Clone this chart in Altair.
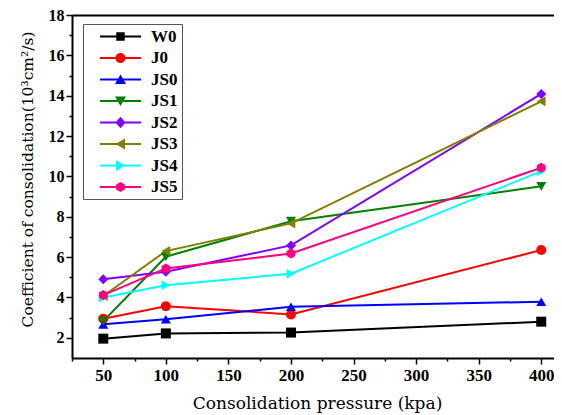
import altair as alt
import pandas as pd

pressure = [50, 100, 200, 400]
series_names = ["W0", "J0", "JS0", "JS1", "JS2", "JS3", "JS4", "JS5"]
W0 = [1.96, 2.22, 2.26, 2.80]
J0 = [2.95, 3.57, 3.16, 6.35]
JS0 = [2.67, 2.92, 3.54, 3.79]
JS1 = [2.83, 6.02, 7.78, 9.51]
JS2 = [4.90, 5.28, 6.58, 14.09]
JS3 = [4.07, 6.30, 7.67, 13.72]
JS4 = [4.00, 4.60, 5.18, 10.26]
JS5 = [4.12, 5.44, 6.18, 10.43]
values = [W0, J0, JS0, JS1, JS2, JS3, JS4, JS5]

colors = ["#000000", "#FF0000", "#0000FF", "#008000", "#8000FF", "#808000", "#00FFFF", "#FF0080"]
hexagon = "M0,-1L0.866,-0.5L0.866,0.5L0,1L-0.866,0.5L-0.866,-0.5Z"
point_shapes = ["square", "circle", "triangle-up", "triangle-down", "diamond",
                "triangle-left", "triangle-right", hexagon]

line_part = "M-4.1,-0.2H4.1V0.2H-4.1Z "
legend_markers = [
    "M-0.85,-0.85H0.85V0.85H-0.85Z",
    "M1,0A1,1 0 1,1 -1,0A1,1 0 1,1 1,0Z",
    "M0,-1L1.1,0.9L-1.1,0.9Z",
    "M0,1L-1.1,-0.9L1.1,-0.9Z",
    "M0,-1.15L1,0L0,1.15L-1,0Z",
    "M-1,0L0.9,-1.1L0.9,1.1Z",
    "M1,0L-0.9,1.1L-0.9,-1.1Z",
    hexagon,
]
legend_shapes = [line_part + m for m in legend_markers]

x_ticks = list(range(25, 401, 25))
y_ticks = list(range(2, 19))

rows = []
for name, vals in zip(series_names, values):
    for p, v in zip(pressure, vals):
        rows.append({"pressure": p, "value": v, "series": name})
df = pd.DataFrame(rows)

x_scale = alt.Scale(domain=[25, 410.2], nice=False, zero=False)
y_scale = alt.Scale(domain=[1, 18], nice=False, zero=False)

title_font = "DejaVu Serif"

x_axis_bottom = alt.Axis(
    values=x_ticks,
    labelExpr="datum.value % 50 === 0 ? datum.label : ''",
    tickSize={"condition": {"test": "datum.value % 50 === 0", "value": 6}, "value": 3},
    title="Consolidation pressure (kpa)",
    titleX=245, titleY=50, titleBaseline="alphabetic", titleAnchor="middle",
    titleFont=title_font, titleFontSize=17, titleFontWeight="normal",
    labelPadding=3, labelFontSize=17, grid=False,
)
y_axis = alt.Axis(
    values=y_ticks,
    labelExpr="datum.value % 2 === 0 ? datum.label : ''",
    tickSize={"condition": {"test": "datum.value % 2 === 0", "value": 6}, "value": 3},
    title="Coefficient of consolidation(10³cm²/s)",
    titleX=-45, titleY=164, titleBaseline="middle", titleAngle=-90, titleAnchor="middle",
    titleFont=title_font, titleFontSize=15.5, titleFontWeight="normal",
    labelPadding=2, labelFontSize=16, grid=False,
)
x_axis_top = alt.Axis(orient="top", labels=False, ticks=False, title=None, grid=False)

color_scale = alt.Scale(domain=series_names, range=colors)

legend_props = dict(
    orient="none", legendX=11, legendY=9, title=None,
    strokeColor="#555555", fillColor="white", padding=4, cornerRadius=0,
    symbolSize=100, symbolOffset=25, symbolOpacity=1, symbolStrokeWidth=0,
    labelOffset=22, labelFont="Liberation Serif", labelFontWeight="bold",
    labelFontSize=17, labelColor="black", rowPadding=3.5,
)

base = alt.Chart(df)

lines = base.mark_line(strokeWidth=2).encode(
    x=alt.X("pressure:Q", scale=x_scale, axis=x_axis_top),
    y=alt.Y("value:Q", scale=y_scale, axis=y_axis),
    color=alt.Color("series:N", scale=color_scale, legend=None),
    detail="series:N",
)

points = base.mark_point(filled=True, opacity=1, size=100).encode(
    x=alt.X("pressure:Q", scale=x_scale, axis=x_axis_bottom),
    y=alt.Y("value:Q", scale=y_scale, axis=y_axis),
    color=alt.Color("series:N", scale=color_scale, legend=None),
    shape=alt.Shape("series:N", scale=alt.Scale(domain=series_names, range=point_shapes), legend=None),
)

legend_layer = base.mark_point(filled=True, opacity=0).encode(
    x=alt.X("pressure:Q", scale=x_scale, axis=None),
    y=alt.Y("value:Q", scale=y_scale, axis=y_axis),
    color=alt.Color("series:N", scale=color_scale, legend=alt.Legend(**legend_props)),
    shape=alt.Shape("series:N", scale=alt.Scale(domain=series_names, range=legend_shapes),
                    legend=alt.Legend(**legend_props)),
)

chart = alt.layer(lines, points, legend_layer).resolve_scale(
    color="independent", shape="independent"
).resolve_axis(x="independent").properties(
    width=482, height=343,
    autosize=alt.AutoSizeParams(type="none"),
    padding={"left": 64, "top": 7, "right": 0, "bottom": 56},
).configure_view(stroke=None).configure_axis(
    labelFont="Liberation Serif", labelFontWeight="bold", labelColor="black",
    domainColor="black", domainWidth=2, tickColor="black", tickWidth=1.5,
    titleColor="black",
)

chart.save("out.html", embed_options={"renderer": "svg", "actions": False})
